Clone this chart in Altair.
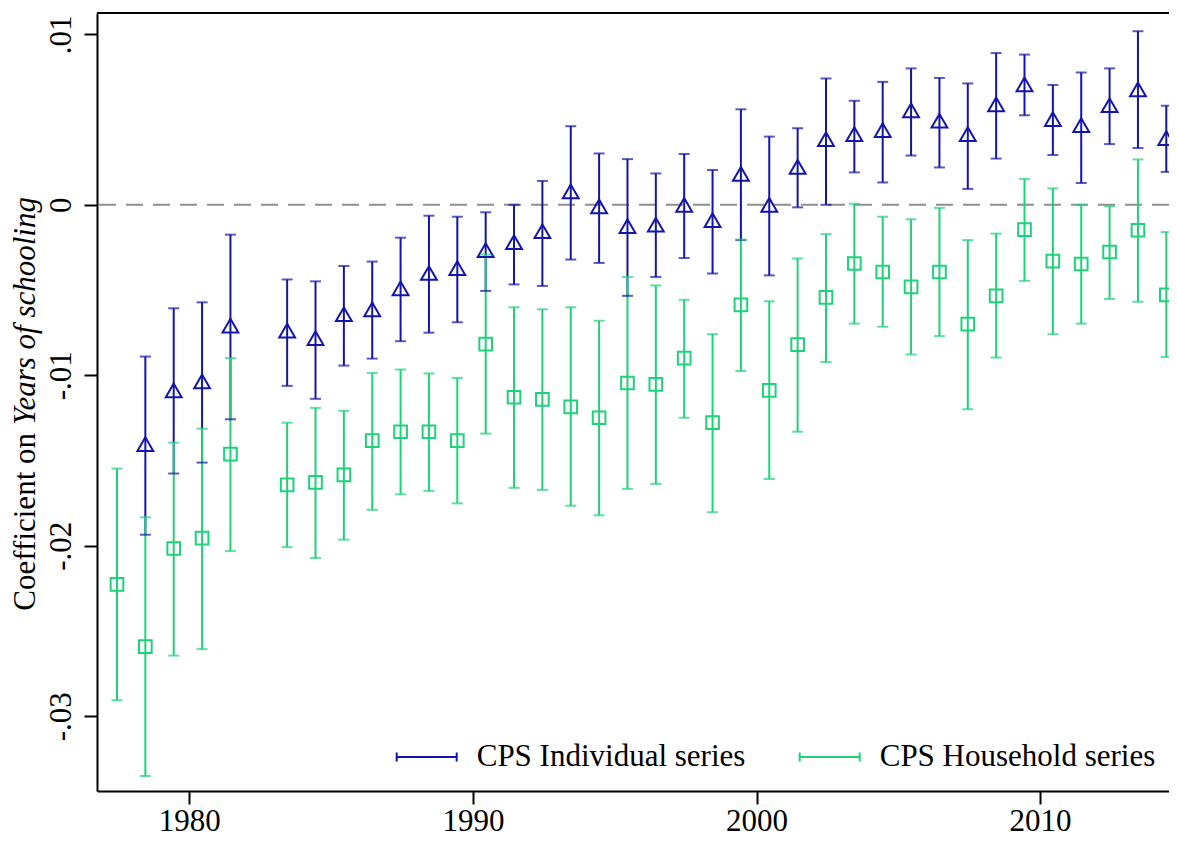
import altair as alt
import pandas as pd

IND = "CPS Individual series"
HH = "CPS Household series"

years = list(range(1977, 2015))

ind_coef = [None, -0.01404, -0.01088, -0.01036, -0.00709, None, -0.00738, -0.00782, -0.00642, -0.00613,
            -0.00490, -0.00400, -0.00371, -0.00266, -0.00219, -0.00155, 0.00079, -0.00009, -0.00125, -0.00117,
            0.00000, -0.00090, 0.00181, 0.00000, 0.00222, 0.00385, 0.00414, 0.00438, 0.00554, 0.00493,
            0.00414, 0.00589, 0.00706, 0.00502, 0.00467, 0.00584, 0.00677, 0.00391]
ind_hi = [None, -0.00890, -0.00607, -0.00572, -0.00175, None, -0.00438, -0.00449, -0.00359, -0.00333,
          -0.00193, -0.00064, -0.00070, -0.00044, 0.00000, 0.00140, 0.00461, 0.00301, 0.00268, 0.00184,
          0.00298, 0.00204, 0.00560, 0.00400, 0.00449, 0.00741, 0.00610, 0.00721, 0.00800, 0.00744,
          0.00712, 0.00890, 0.00881, 0.00703, 0.00776, 0.00800, 0.01018, 0.00581]
ind_lo = [None, -0.01935, -0.01576, -0.01512, -0.01258, None, -0.01062, -0.01138, -0.00943, -0.00902,
          -0.00800, -0.00750, -0.00689, -0.00505, -0.00467, -0.00476, -0.00321, -0.00341, -0.00534, -0.00423,
          -0.00312, -0.00403, -0.00207, -0.00414, -0.00015, 0.00000, 0.00190, 0.00131, 0.00289, 0.00219,
          0.00093, 0.00271, 0.00525, 0.00292, 0.00128, 0.00356, 0.00333, 0.00193]

hh_coef = [-0.02226, -0.02591, -0.02016, -0.01955, -0.01462, None, -0.01643, -0.01628, -0.01584, -0.01383,
           -0.01331, -0.01331, -0.01383, -0.00817, -0.01129, -0.01141, -0.01185, -0.01249, -0.01045, -0.01053,
           -0.00899, -0.01278, -0.00587, -0.01088, -0.00820, -0.00543, -0.00344, -0.00394, -0.00481, -0.00394,
           -0.00700, -0.00534, -0.00146, -0.00330, -0.00347, -0.00277, -0.00149, -0.00528]
hh_hi = [-0.01547, -0.01833, -0.01395, -0.01313, -0.00899, None, -0.01278, -0.01191, -0.01208, -0.00986,
         -0.00966, -0.00989, -0.01015, -0.00292, -0.00601, -0.00613, -0.00601, -0.00680, -0.00423, -0.00473,
         -0.00557, -0.00759, -0.00204, -0.00566, -0.00315, -0.00172, 0.00006, -0.00070, -0.00085, -0.00018,
         -0.00207, -0.00169, 0.00152, 0.00096, 0.00000, -0.00009, 0.00266, -0.00160]
hh_lo = [-0.02906, -0.03350, -0.02644, -0.02606, -0.02031, None, -0.02008, -0.02072, -0.01964, -0.01789,
         -0.01698, -0.01678, -0.01751, -0.01342, -0.01660, -0.01672, -0.01765, -0.01821, -0.01666, -0.01637,
         -0.01249, -0.01803, -0.00975, -0.01608, -0.01331, -0.00922, -0.00697, -0.00715, -0.00878, -0.00770,
         -0.01199, -0.00896, -0.00446, -0.00759, -0.00697, -0.00552, -0.00569, -0.00893]

x_ticks = [1980, 1990, 2000, 2010]
y_ticks = [-0.03, -0.02, -0.01, 0.0, 0.01]
title_plain = ["Coefficient on"]
title_italic = ["Years of schooling"]

rows = []
for name, c, h, l in [(IND, ind_coef, ind_hi, ind_lo), (HH, hh_coef, hh_hi, hh_lo)]:
    for i, yr in enumerate(years):
        if c[i] is None:
            continue
        rows.append({"series": name, "year": yr, "coef": c[i], "hi": h[i], "lo": l[i]})
df = pd.DataFrame(rows)

FONT = "Liberation Serif"
FS = 31
BLUE = "#1414a8"
GREEN = "#1ed27a"
W, H = 1072, 778

xscale = alt.Scale(domain=[1976.745, 2014.545], nice=False, zero=False)
yscale = alt.Scale(domain=[-0.034381, 0.011249], nice=False, zero=False)

base = alt.Chart(df).transform_calculate(xpos="datum.year + 0.45")

X = alt.X("xpos:Q", scale=xscale,
          axis=alt.Axis(values=x_ticks, format="d", title=None, grid=False, labelPadding=2))
Y_AX = alt.Axis(values=y_ticks, title=None, grid=False, labelAngle=270, labelAlign="center",
                labelBaseline="alphabetic", labelPadding=14,
                labelExpr="datum.value == 0 ? '0' : (datum.value < 0 ? '-' : '') + replace(format(abs(datum.value), '.2f'), '0.', '.')")

legend = alt.Legend(orient="none", legendX=298.7, legendY=713, direction="horizontal", title=None,
                    symbolType="M-1,0L1,0M-1,-0.15L-1,0.15M1,-0.15L1,0.15", symbolSize=3600,
                    symbolStrokeWidth=2, labelFont=FONT, labelFontSize=FS, labelColor="black",
                    labelOffset=19, columnPadding=50, labelLimit=600, padding=0)

color = alt.Color("series:N", scale=alt.Scale(domain=[IND, HH], range=[BLUE, GREEN]), legend=legend)

zero = alt.Chart(pd.DataFrame({"v": [0.0]})).mark_rule(
    color="#8e8e8e", strokeDash=[17, 10], strokeWidth=2).encode(
    y=alt.Y("v:Q", scale=yscale, axis=Y_AX))

topline = alt.Chart(pd.DataFrame({"v": [0]})).mark_rule(color="black", strokeWidth=2).encode(
    x=alt.value(0), x2=alt.value(W), y=alt.value(0))

rules = base.mark_rule(strokeWidth=2).encode(
    x=X, y=alt.Y("lo:Q", scale=yscale), y2="hi:Q", color=color)

layers = [zero, topline, rules]
for name, col, shp, sz in [(IND, BLUE, "triangle-up", 250), (HH, GREEN, "square", 160)]:
    sub = base.transform_filter(alt.datum.series == name)
    caps = sub.transform_fold(["hi", "lo"], as_=["k", "val"]).mark_tick(
        orient="horizontal", size=11, thickness=2, color=col).encode(
        x=X, y=alt.Y("val:Q", scale=yscale))
    pts = sub.mark_point(shape=shp, filled=False, size=sz, strokeWidth=2, color=col, opacity=1).encode(
        x=X, y=alt.Y("coef:Q", scale=yscale))
    layers += [caps, pts]

t1 = alt.Chart(pd.DataFrame({"t": title_plain})).mark_text(
    angle=270, align="right", baseline="alphabetic", font=FONT, fontSize=FS, color="black").encode(
    text="t:N", x=alt.value(-62), y=alt.value(420))
t2 = alt.Chart(pd.DataFrame({"t": title_italic})).mark_text(
    angle=270, align="left", baseline="alphabetic", font=FONT, fontSize=FS, fontStyle="italic",
    color="black").encode(text="t:N", x=alt.value(-62), y=alt.value(412))
layers += [t1, t2]

chart = alt.layer(*layers).properties(
    width=W, height=H,
    autosize=alt.AutoSizeParams(type="none"),
    padding={"left": 89, "top": 5, "right": 0, "bottom": 42},
    background="white",
).configure_view(stroke=None).configure_axis(
    labelFont=FONT, labelFontSize=FS, labelColor="black", domainColor="black", domainWidth=2,
    tickColor="black", tickWidth=2, tickSize=13
)

chart.save("out.html", embed_options={"renderer": "svg", "actions": False})
